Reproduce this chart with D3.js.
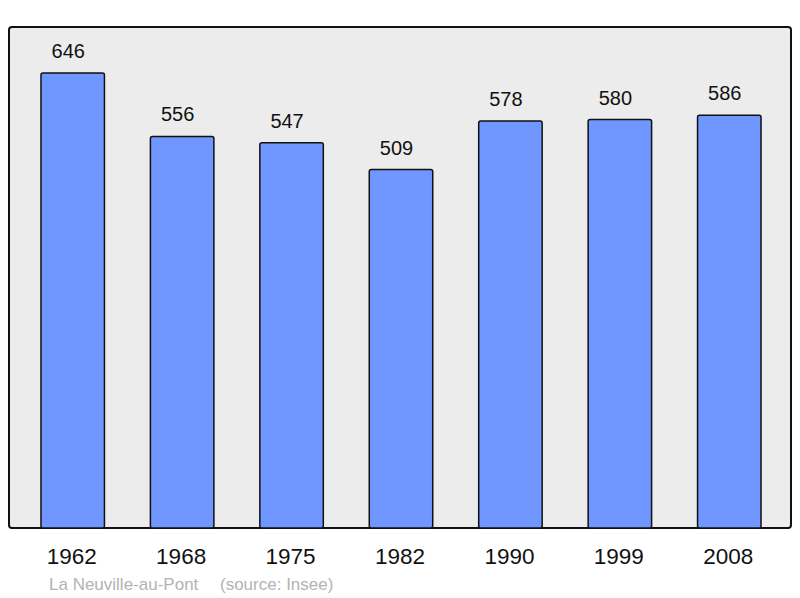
<!DOCTYPE html>
<html>
<head>
<meta charset="utf-8">
<script src="https://cdn.jsdelivr.net/npm/d3@7"></script>
<style>
  body { margin: 0; background: #fff; }
  text { font-family: "Liberation Sans", Arial, sans-serif; }
</style>
</head>
<body>
<div id="chart"></div>
<script>
// Data
const years = ["1962", "1968", "1975", "1982", "1990", "1999", "2008"];
const population = [646, 556, 547, 509, 578, 580, 586];
const commune = "La Neuville-au-Pont";
const source = "(source: Insee)";

const width = 800, height = 598;

const svg = d3.select("#chart")
    .append("svg")
    .attr("width", width)
    .attr("height", height);

// Background panel
svg.append("rect")
    .attr("x", 9)
    .attr("y", 27)
    .attr("width", 782)
    .attr("height", 501)
    .attr("rx", 3)
    .attr("fill", "#ececec")
    .attr("stroke", "#111")
    .attr("stroke-width", 2);

// Scales
const xScale = d3.scaleBand()
    .domain(years)
    .range([18, 784])
    .paddingInner(0.42)
    .paddingOuter(0.21);

const yScale = d3.scaleLinear()
    .domain([0, 710])
    .range([528, 28]);

const data = years.map((y, i) => ({ year: y, value: population[i] }));

// Bars
svg.selectAll(".bar")
    .data(data)
    .enter()
    .append("rect")
    .attr("class", "bar")
    .attr("x", d => xScale(d.year))
    .attr("y", d => yScale(d.value))
    .attr("width", xScale.bandwidth())
    .attr("height", d => yScale(0) - yScale(d.value))
    .attr("rx", 2)
    .attr("fill", "#7096ff")
    .attr("stroke", "#111")
    .attr("stroke-width", 1.5);

// Value labels (sit slightly left of bar centre, as in the original)
svg.selectAll(".val")
    .data(data)
    .enter()
    .append("text")
    .attr("class", "val")
    .attr("x", d => xScale(d.year) + xScale.bandwidth() / 2 - 4.5)
    .attr("y", d => yScale(d.value) - 15)
    .attr("text-anchor", "middle")
    .attr("font-size", 20)
    .attr("fill", "#111")
    .text(d => d.value);

// Year labels
svg.selectAll(".year")
    .data(data)
    .enter()
    .append("text")
    .attr("class", "year")
    .attr("x", d => xScale(d.year) + xScale.bandwidth() / 2 - 1)
    .attr("y", 564)
    .attr("text-anchor", "middle")
    .attr("font-size", 22.5)
    .attr("fill", "#111")
    .text(d => d.year);

// Footer
svg.append("text")
    .attr("x", 49)
    .attr("y", 590)
    .attr("font-size", 17)
    .attr("fill", "#b3b3b3")
    .text(commune);

svg.append("text")
    .attr("x", 220)
    .attr("y", 590)
    .attr("font-size", 17)
    .attr("fill", "#b3b3b3")
    .text(source);
</script>
</body>
</html>
